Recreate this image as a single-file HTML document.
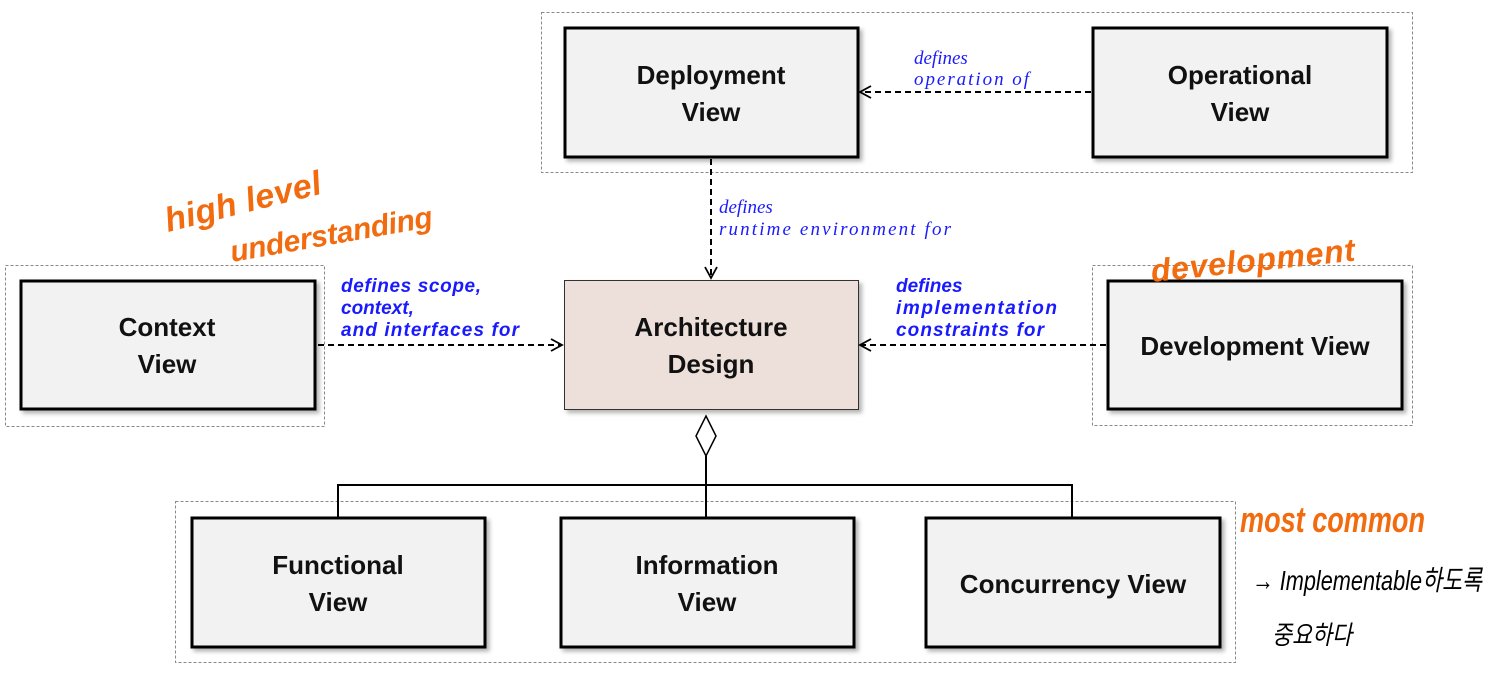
<!DOCTYPE html>
<html><head><meta charset="utf-8"><style>
html,body{margin:0;padding:0;background:#fff;}
svg{display:block;}
.bx{font-family:"Liberation Sans",sans-serif;font-weight:bold;font-size:26px;fill:#111;}
.lb{font-family:"Liberation Serif",serif;font-style:italic;font-size:19px;fill:#1a1aff;}
.lbs{font-family:"Liberation Sans",sans-serif;font-style:italic;font-weight:bold;font-size:19px;fill:#1a1aff;}
.hw{font-family:"Liberation Sans",sans-serif;font-style:italic;fill:#f26b0f;font-weight:bold;}
.hk{font-family:"Liberation Sans","Noto Sans CJK KR",sans-serif;font-style:italic;fill:#000;}
</style></head><body>
<svg width="1497" height="684" viewBox="0 0 1497 684" xmlns="http://www.w3.org/2000/svg">
<defs>
<filter id="sh" x="-5%" y="-5%" width="115%" height="120%"><feDropShadow dx="3" dy="3" stdDeviation="2" flood-color="#000" flood-opacity="0.3"/></filter>
<marker id="ar" markerWidth="14" markerHeight="14" refX="12" refY="7" orient="auto" markerUnits="userSpaceOnUse"><path d="M1,1 L12,7 L1,13" fill="none" stroke="#000" stroke-width="1.8"/></marker>
</defs>
<g fill="none" stroke="#888" stroke-width="1" stroke-dasharray="3,2">
<rect x="541.5" y="12.5" width="871" height="160"/>
<rect x="5.5" y="265.5" width="319" height="161"/>
<rect x="1092.5" y="265.5" width="320" height="160"/>
<rect x="175.5" y="501.5" width="1060" height="161"/>
</g>
<g fill="#f2f2f2" stroke="#000" stroke-width="3" filter="url(#sh)">
<rect x="565" y="28" width="293" height="129"/>
<rect x="1093" y="28" width="294" height="129"/>
<rect x="21" y="281" width="294" height="128"/>
<rect x="1108" y="281" width="294" height="128"/>
<rect x="192" y="518" width="293" height="129"/>
<rect x="561" y="518" width="293" height="129"/>
<rect x="926" y="518" width="294" height="129"/>
</g>
<rect x="564.5" y="280.5" width="294" height="129" fill="#ede0da" stroke="#333" stroke-width="1" filter="url(#sh)"/>
<g class="bx" text-anchor="middle">
<text x="711" y="84">Deployment</text><text x="711" y="121">View</text>
<text x="1240" y="84">Operational</text><text x="1240" y="121">View</text>
<text x="167" y="336">Context</text><text x="167" y="373">View</text>
<text x="711" y="336">Architecture</text><text x="711" y="373">Design</text>
<text x="1255" y="355">Development View</text>
<text x="338" y="574">Functional</text><text x="338" y="611">View</text>
<text x="707" y="574">Information</text><text x="707" y="611">View</text>
<text x="1073" y="593">Concurrency View</text>
</g>
<g stroke="#000" stroke-width="2" stroke-dasharray="6,4" fill="none" marker-end="url(#ar)">
<line x1="1091" y1="92" x2="860" y2="92"/>
<line x1="711" y1="159" x2="711" y2="278"/>
<line x1="318" y1="345" x2="562" y2="345"/>
<line x1="1106" y1="345" x2="860" y2="345"/>
</g>
<path d="M706,416 L716,436 L706,456 L696,436 Z" fill="#fff" stroke="#000" stroke-width="1.5"/>
<g stroke="#000" stroke-width="2" fill="none">
<line x1="706" y1="456" x2="706" y2="517"/>
<polyline points="338,517 338,485 1072,485 1072,517"/>
</g>
<text class="lb" x="914" y="64">defines</text>
<text class="lb" x="914" y="85" textLength="115">operation of</text>
<text class="lb" x="719" y="213">defines</text>
<text class="lb" x="719" y="235" textLength="232">runtime environment for</text>
<text class="lbs" x="341" y="292" textLength="140">defines scope,</text>
<text class="lbs" x="341" y="314">context,</text>
<text class="lbs" x="341" y="336" textLength="178">and interfaces for</text>
<text class="lbs" x="896" y="292">defines</text>
<text class="lbs" x="896" y="314" textLength="161">implementation</text>
<text class="lbs" x="896" y="336" textLength="148">constraints for</text>
<text class="hw" font-size="34" transform="translate(168,232) rotate(-14)" textLength="160">high level</text>
<text class="hw" font-size="30" transform="translate(232,262) rotate(-10)" textLength="205">understanding</text>
<text class="hw" font-size="32" transform="translate(1152,282) rotate(-6)" textLength="205">development</text>
<text class="hw" font-size="36" x="1240" y="532" textLength="185" lengthAdjust="spacingAndGlyphs">most common</text>
<text class="hk" font-size="28" x="1252" y="590" textLength="230" lengthAdjust="spacingAndGlyphs">→ Implementable하도록</text>
<text class="hk" font-size="26" x="1272" y="644" textLength="80" lengthAdjust="spacingAndGlyphs">중요하다</text>
</svg>
</body></html>
